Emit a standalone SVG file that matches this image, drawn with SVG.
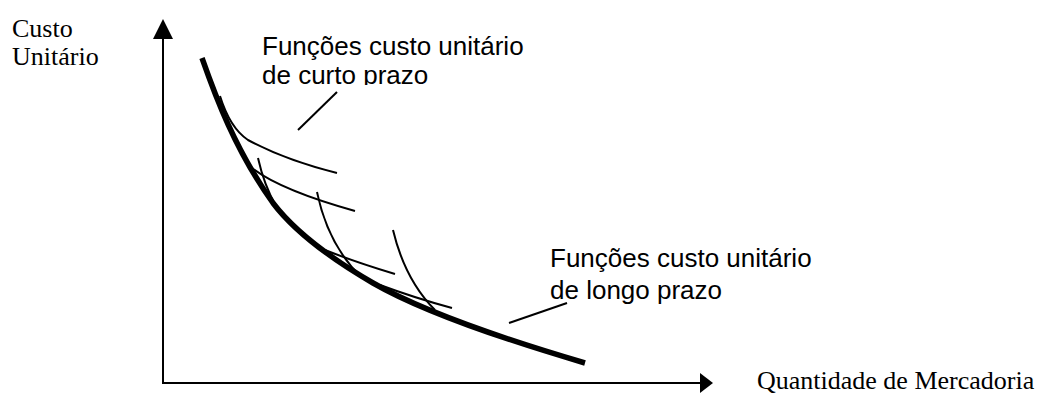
<svg xmlns="http://www.w3.org/2000/svg" width="1041" height="394" viewBox="0 0 1041 394">
<defs>
<style>
.axis{stroke:#000;stroke-width:2;fill:none}
.thin{stroke:#000;stroke-width:2;fill:none;stroke-linecap:butt}
.thick{stroke:#000;stroke-width:5.5;fill:none;stroke-linecap:butt}
.serif{font-family:"Liberation Serif","Times New Roman",serif;font-size:26px;fill:#000}
.sans{font-family:"Liberation Sans",Arial,sans-serif;font-size:26px;fill:#000}
</style>
<clipPath id="clipShort"><rect x="250" y="20" width="300" height="65"/></clipPath>
</defs>
<g id="axes">
<line class="axis" x1="163" y1="384" x2="163" y2="36"/>
<polygon points="163,19 153,39 173,39" fill="#000"/>
<line class="axis" x1="162" y1="383" x2="702" y2="383"/>
<polygon points="713,383 700,373 700,393" fill="#000"/>
</g>
<g id="axis-labels">
<text class="serif" x="12" y="37">Custo</text>
<text class="serif" x="12" y="65">Unitário</text>
<text class="serif" x="757" y="389">Quantidade de Mercadoria</text>
</g>
<g id="long-run-curve">
<path class="thick" d="M202,58 C215,95 235,150 273,203 C295,232 330,258 373,283 C420,310 500,338 585,363"/>
</g>
<g id="short-run-curves">
<path class="thin" d="M220,96 Q230,128 248,140 Q285,160 337,173"/>
<path class="thin" d="M258,158 Q264,185 276,206"/>
<path class="thin" d="M252,168 Q280,190 355,211"/>
<path class="thin" d="M317,192 Q328,245 362,278"/>
<path class="thin" d="M325,250 Q355,262 395,274"/>
<path class="thin" d="M393,230 Q405,280 435,310"/>
<path class="thin" d="M380,285 Q415,298 452,308"/>
</g>
<g id="connectors">
<line class="thin" x1="337" y1="92" x2="298" y2="130"/>
<line class="thin" x1="567" y1="303" x2="509" y2="323"/>
</g>
<g id="label-short-run" clip-path="url(#clipShort)">
<text class="sans" x="262" y="55">Funções custo unitário</text>
<text class="sans" x="262" y="84">de curto prazo</text>
</g>
<g id="label-long-run">
<text class="sans" x="550" y="267">Funções custo unitário</text>
<text class="sans" x="550" y="299">de longo prazo</text>
</g>
</svg>
